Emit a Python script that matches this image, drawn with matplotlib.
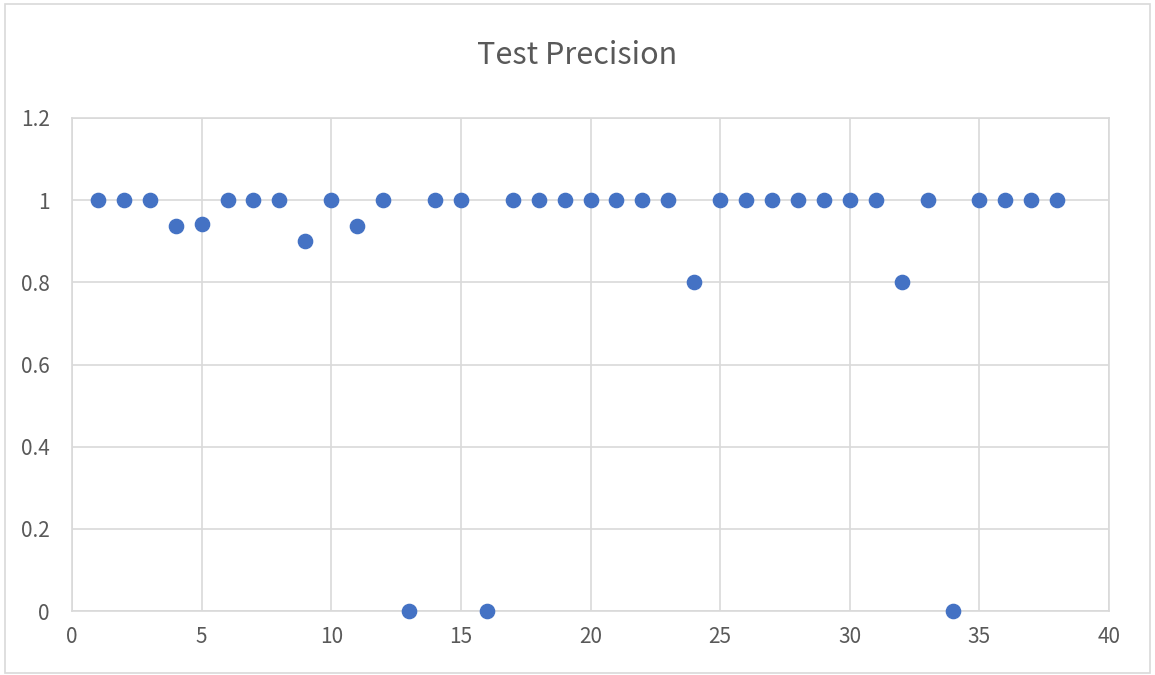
import matplotlib.pyplot as plt
from matplotlib.patches import Rectangle

# data
runs = list(range(1, 39))
precision = [1, 1, 1, 0.9375, 0.941, 1, 1, 1, 0.9, 1,
             0.9375, 1, 0, 1, 1, 0, 1, 1, 1, 1,
             1, 1, 1, 0.8, 1, 1, 1, 1, 1, 1,
             1, 0.8, 1, 0, 1, 1, 1, 1]
x_ticks = [0, 5, 10, 15, 20, 25, 30, 35, 40]
y_ticks = [0, 0.2, 0.4, 0.6, 0.8, 1, 1.2]
y_labels = ["0", "0.2", "0.4", "0.6", "0.8", "1", "1.2"]

plt.rcParams["font.family"] = ["Noto Sans CJK SC", "DejaVu Sans"]
text_color = "#595959"
grid_color = "#d9d9d9"

fig = plt.figure(figsize=(11.55, 6.75), dpi=100)
# chart border
fig.patches.append(Rectangle((5 / 1155, 2 / 675), 1145 / 1155, 669 / 675,
                             transform=fig.transFigure, fill=False,
                             edgecolor=grid_color, linewidth=1.2))

ax = fig.add_axes([72 / 1155, 1 - 611 / 675, (1109 - 72) / 1155, (611 - 118) / 675])
ax.scatter(runs, precision, s=105, color="#4472C4", zorder=3, clip_on=False)

ax.set_xlim(0, 40)
ax.set_ylim(0, 1.2)
ax.set_xticks(x_ticks)
ax.set_yticks(y_ticks)
ax.set_yticklabels(y_labels)
ax.grid(True, color=grid_color, linewidth=1.2)
ax.set_axisbelow(True)
for s in ax.spines.values():
    s.set_color(grid_color)
    s.set_linewidth(1.2)
ax.tick_params(length=0, labelsize=15, colors=text_color)
ax.tick_params(axis="y", pad=16)
ax.tick_params(axis="x", pad=11)
for lbl in ax.get_xticklabels() + ax.get_yticklabels():
    lbl.set_fontweight("light")

fig.text(0.5, 1 - 55 / 675, "Test Precision", ha="center", va="center",
         fontsize=22, color=text_color, fontweight="light")

fig.savefig("out.png", dpi=100)
